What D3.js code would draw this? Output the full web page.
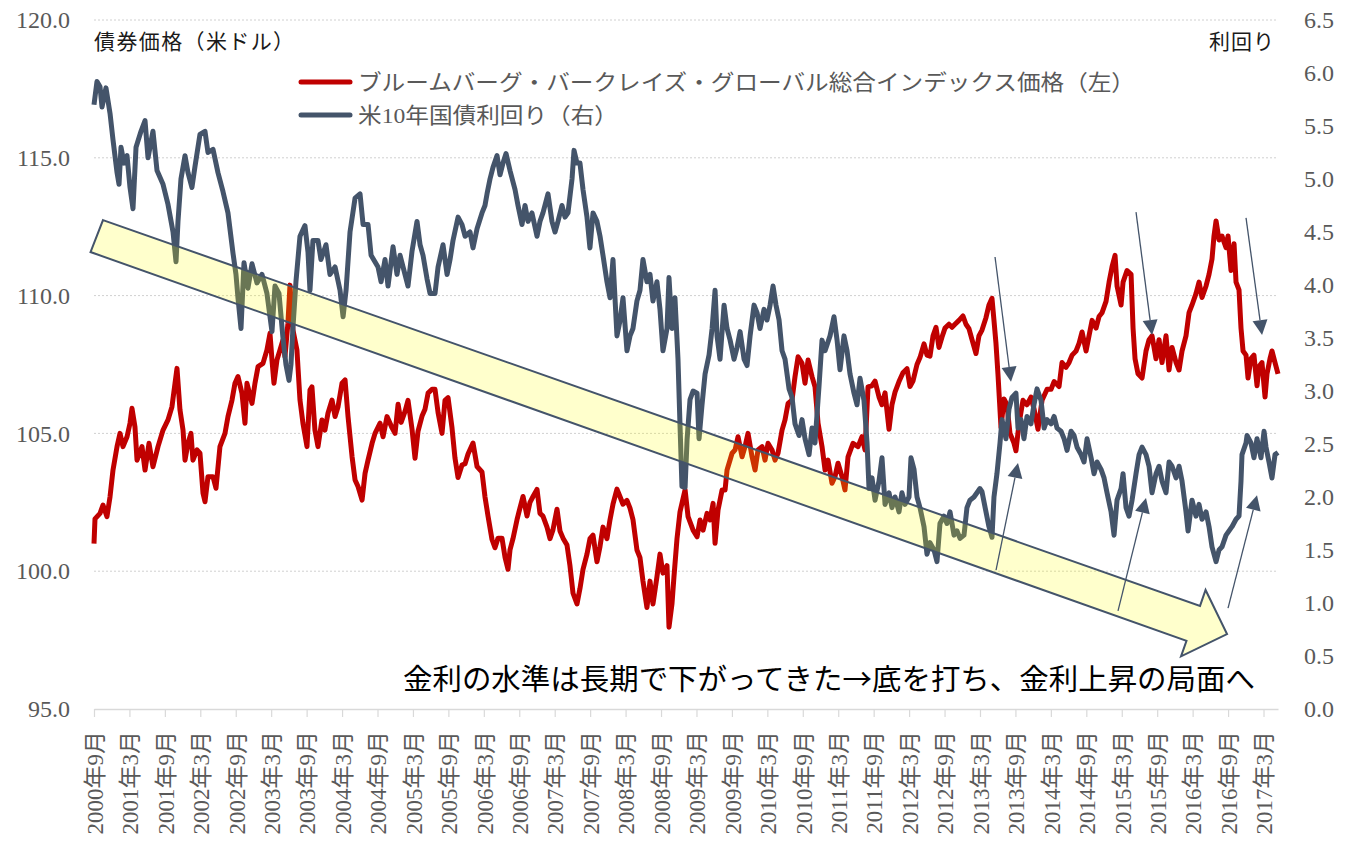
<!DOCTYPE html>
<html>
<head>
<meta charset="utf-8">
<script src="https://cdn.jsdelivr.net/npm/d3@7/dist/d3.min.js"></script>
<style>
body { margin: 0; background: #fff; }
text { font-family: "Liberation Serif", "Times New Roman", "DejaVu Serif", "Noto Sans CJK JP", serif; }
</style>
</head>
<body>
<svg id="chart" width="1345" height="841"></svg>
<script>
// svg box size
var width = 1345,
    height = 841,
    margins = {};

margins.top    = 20;
margins.bottom = 132;
margins.left   = 94;
margins.right  = 67;

var serifFont = '"Liberation Serif", "Times New Roman", "DejaVu Serif", "Noto Sans CJK JP", serif';

//////////////////
// Data
//////////////////

// series names (legend)
var seriesNames = ["ブルームバーグ・バークレイズ・グローバル総合インデックス価格（左）", "米10年国債利回り（右）"];
var seriesColors = ["#C00000", "#44546A"];

// x axis labels (every 6 months)
var xTickLabels = ["2000年9月","2001年3月","2001年9月","2002年3月","2002年9月","2003年3月","2003年9月","2004年3月",
    "2004年9月","2005年3月","2005年9月","2006年3月","2006年9月","2007年3月","2007年9月","2008年3月","2008年9月",
    "2009年3月","2009年9月","2010年3月","2010年9月","2011年3月","2011年9月","2012年3月","2012年9月","2013年3月",
    "2013年9月","2014年3月","2014年9月","2015年3月","2015年9月","2016年3月","2016年9月","2017年3月"];

var leftTicks  = [95, 100, 105, 110, 115, 120];
var rightTicks = [0, 0.5, 1, 1.5, 2, 2.5, 3, 3.5, 4, 4.5, 5, 5.5, 6, 6.5];

// bond index price, [decimal year, USD]
var priceSeries = [
[2000.667,101.0],[2000.681,101.9],[2000.752,102.10],[2000.794,102.40],[2000.850,101.98],[2000.893,102.70],[2000.935,103.67],[2000.992,104.52],
[2001.034,105.00],[2001.076,104.52],[2001.133,104.88],[2001.175,105.37],[2001.203,105.91],[2001.245,105.24],[2001.274,104.03],[2001.344,104.52],[2001.387,103.67],[2001.443,104.64],[2001.499,103.79],[2001.570,104.52],[2001.641,105.12],[2001.711,105.49],[2001.767,105.97],[2001.810,106.82],[2001.838,107.36],[2001.880,105.85],[2001.923,105.12],[2001.951,104.03],[2001.993,104.64],
[2002.035,105.00],[2002.063,104.03],[2002.120,104.40],[2002.162,104.28],[2002.205,102.83],[2002.233,102.52],[2002.275,103.43],[2002.346,103.43],[2002.388,103.01],[2002.444,104.52],[2002.515,105.00],[2002.557,105.61],[2002.614,106.21],[2002.656,106.82],[2002.698,107.06],[2002.755,106.45],[2002.797,105.37],[2002.825,106.82],[2002.896,106.09],[2002.938,106.82],[2002.981,107.42],
[2003.051,107.54],[2003.107,108.03],[2003.150,108.63],[2003.178,107.66],[2003.206,106.82],[2003.248,107.66],[2003.291,108.03],[2003.333,108.39],[2003.361,107.78],[2003.403,109.00],[2003.432,110.38],[2003.474,108.75],[2003.530,108.03],[2003.573,106.21],[2003.615,105.37],[2003.672,104.52],[2003.714,106.57],[2003.742,106.69],[2003.784,105.12],[2003.827,104.52],[2003.883,105.49],[2003.925,105.12],[2003.968,105.73],
[2004.025,106.21],[2004.068,105.61],[2004.110,105.97],[2004.166,106.82],[2004.209,106.94],[2004.251,105.61],[2004.308,104.15],[2004.350,103.31],[2004.392,103.07],[2004.449,102.58],[2004.491,103.55],[2004.533,104.03],[2004.590,104.64],[2004.632,105.00],[2004.703,105.37],[2004.745,104.88],[2004.801,105.61],[2004.872,105.20],[2004.914,105.00],[2004.957,106.06],
[2005.000,105.40],[2005.055,105.80],[2005.097,106.20],[2005.154,105.15],[2005.196,104.10],[2005.238,105.07],[2005.295,105.63],[2005.337,105.88],[2005.380,106.46],[2005.436,106.60],[2005.478,106.60],[2005.521,105.76],[2005.577,105.00],[2005.619,106.20],[2005.662,106.30],[2005.718,105.20],[2005.760,104.10],[2005.803,103.40],[2005.859,103.85],[2005.902,103.90],[2005.944,104.25],
[2006.014,104.65],[2006.071,103.80],[2006.141,103.60],[2006.183,102.70],[2006.226,102.00],[2006.282,101.15],[2006.324,100.85],[2006.367,101.20],[2006.423,101.20],[2006.466,100.50],[2006.508,100.07],[2006.536,100.77],[2006.578,101.18],[2006.635,101.87],[2006.677,102.30],[2006.720,102.71],[2006.776,102.00],[2006.818,102.50],[2006.861,102.71],[2006.917,102.97],[2006.959,102.10],
[2007.001,102.00],[2007.058,101.60],[2007.100,101.18],[2007.142,101.50],[2007.199,102.25],[2007.241,101.46],[2007.284,101.20],[2007.340,100.95],[2007.382,100.20],[2007.425,99.20],[2007.481,98.81],[2007.523,99.37],[2007.566,100.07],[2007.622,100.62],[2007.664,101.18],[2007.707,101.31],[2007.763,100.34],[2007.806,100.90],[2007.848,101.60],[2007.904,101.18],[2007.947,101.87],[2007.989,102.43],
[2008.045,102.98],[2008.087,102.71],[2008.130,102.43],[2008.186,102.57],[2008.229,102.29],[2008.271,101.87],[2008.327,100.77],[2008.370,100.49],[2008.412,99.64],[2008.468,98.68],[2008.511,99.64],[2008.553,98.81],[2008.609,99.79],[2008.652,100.62],[2008.694,99.93],[2008.751,100.20],[2008.779,97.97],[2008.821,98.81],[2008.849,99.79],[2008.892,101.18],[2008.934,102.15],[2008.962,102.46],
[2009.006,102.95],[2009.048,101.98],[2009.119,101.49],[2009.175,101.25],[2009.217,101.86],[2009.260,101.49],[2009.316,102.10],[2009.358,101.86],[2009.401,102.46],[2009.429,101.01],[2009.471,102.22],[2009.528,102.95],[2009.570,102.95],[2009.598,103.67],[2009.669,104.28],[2009.711,104.40],[2009.753,104.88],[2009.810,104.15],[2009.852,104.52],[2009.894,105.00],[2009.951,104.15],[2009.993,103.67],
[2010.035,104.40],[2010.092,104.52],[2010.134,104.03],[2010.176,104.64],[2010.233,104.40],[2010.275,104.03],[2010.317,104.28],[2010.374,105.12],[2010.416,105.49],[2010.459,106.09],[2010.515,106.21],[2010.557,107.06],[2010.600,107.78],[2010.656,107.54],[2010.698,106.82],[2010.741,107.66],[2010.797,107.06],[2010.839,106.69],[2010.882,105.37],[2010.938,104.52],[2010.981,103.67],
[2011.023,104.03],[2011.079,103.19],[2011.121,103.43],[2011.164,103.92],[2011.220,103.43],[2011.262,102.95],[2011.305,104.15],[2011.375,104.64],[2011.446,104.52],[2011.502,104.88],[2011.545,104.40],[2011.587,106.69],[2011.643,106.73],[2011.686,106.90],[2011.742,106.32],[2011.784,106.04],[2011.827,106.47],[2011.883,105.15],[2011.925,106.04],[2011.968,106.50],
[2012.024,106.88],[2012.080,107.20],[2012.137,107.35],[2012.179,106.70],[2012.221,106.90],[2012.278,107.50],[2012.320,107.75],[2012.377,108.25],[2012.419,107.84],[2012.461,107.80],[2012.504,108.54],[2012.546,108.85],[2012.588,108.12],[2012.631,108.50],[2012.673,108.82],[2012.729,108.96],[2012.772,108.85],[2012.814,108.96],[2012.870,109.10],[2012.927,109.26],[2012.969,108.96],
[2013.011,108.80],[2013.054,108.40],[2013.110,107.90],[2013.152,108.54],[2013.195,108.75],[2013.251,109.20],[2013.293,109.66],[2013.336,109.90],[2013.364,109.10],[2013.392,108.27],[2013.420,107.16],[2013.463,105.21],[2013.505,106.25],[2013.547,106.04],[2013.590,105.00],[2013.646,104.65],[2013.674,104.37],[2013.717,105.35],[2013.773,106.20],[2013.830,106.04],[2013.886,106.32],[2013.928,105.90],[2013.985,105.15],
[2014.042,106.20],[2014.113,106.60],[2014.169,106.60],[2014.212,106.88],[2014.282,106.70],[2014.324,107.57],[2014.381,107.40],[2014.423,107.57],[2014.466,107.84],[2014.522,107.99],[2014.564,108.27],[2014.607,108.68],[2014.663,107.99],[2014.705,108.54],[2014.748,109.10],[2014.804,108.82],[2014.846,109.24],[2014.889,109.38],[2014.945,109.79],[2014.988,110.49],
[2015.030,111.05],[2015.072,111.46],[2015.100,110.35],[2015.157,109.66],[2015.185,110.49],[2015.241,110.91],[2015.298,110.77],[2015.326,108.82],[2015.354,107.71],[2015.396,107.16],[2015.453,107.01],[2015.509,107.99],[2015.552,108.40],[2015.594,108.54],[2015.650,107.71],[2015.693,108.40],[2015.735,107.57],[2015.791,108.54],[2015.834,107.30],[2015.876,108.12],[2015.933,107.57],[2015.975,107.30],
[2016.017,107.99],[2016.073,108.54],[2016.116,109.38],[2016.158,109.66],[2016.214,110.07],[2016.257,110.49],[2016.299,109.93],[2016.356,110.35],[2016.398,110.77],[2016.440,111.33],[2016.468,112.16],[2016.497,112.71],[2016.539,112.02],[2016.581,112.16],[2016.638,111.74],[2016.666,112.16],[2016.708,110.91],[2016.751,111.88],[2016.779,110.49],[2016.821,110.21],[2016.849,108.82],[2016.878,107.99],[2016.920,107.84],[2016.948,107.01],[2016.990,107.71],
[2017.032,107.84],[2017.075,106.73],[2017.103,107.43],[2017.145,107.57],[2017.188,106.32],[2017.216,107.16],[2017.258,107.71],[2017.286,107.99],[2017.329,107.57],[2017.371,107.16]
];

// US 10y treasury yield, [decimal year, %]
var yieldSeries = [
[2000.667,5.70],[2000.709,5.92],[2000.752,5.87],[2000.780,5.68],[2000.836,5.86],[2000.893,5.62],[2000.935,5.37],[2000.992,5.06],
[2001.020,4.95],[2001.048,5.30],[2001.090,5.15],[2001.133,5.22],[2001.175,4.92],[2001.217,4.72],[2001.260,5.30],[2001.330,5.45],[2001.387,5.55],[2001.429,5.20],[2001.499,5.45],[2001.556,5.08],[2001.641,4.95],[2001.711,4.76],[2001.782,4.50],[2001.824,4.22],[2001.852,4.60],[2001.894,5.00],[2001.951,5.22],[2001.993,5.06],
[2002.049,4.92],[2002.092,5.12],[2002.162,5.42],[2002.233,5.45],[2002.275,5.25],[2002.346,5.28],[2002.416,5.06],[2002.487,4.88],[2002.557,4.68],[2002.628,4.30],[2002.670,4.10],[2002.698,3.88],[2002.741,3.59],[2002.783,4.21],[2002.839,3.97],[2002.896,4.20],[2002.966,4.02],
[2003.037,4.10],[2003.107,3.92],[2003.150,3.70],[2003.178,3.56],[2003.220,3.99],[2003.277,3.92],[2003.333,3.50],[2003.375,3.25],[2003.418,3.10],[2003.446,3.25],[2003.474,3.60],[2003.516,4.03],[2003.573,4.46],[2003.643,4.56],[2003.686,4.31],[2003.714,3.95],[2003.756,4.42],[2003.827,4.42],[2003.869,4.24],[2003.940,4.38],[2003.996,4.10],
[2004.068,4.17],[2004.138,3.95],[2004.181,3.70],[2004.223,3.95],[2004.279,4.50],[2004.350,4.82],[2004.420,4.86],[2004.463,4.57],[2004.533,4.57],[2004.576,4.28],[2004.674,4.17],[2004.717,4.03],[2004.773,4.24],[2004.815,3.99],[2004.886,4.36],[2004.942,4.10],[2004.985,4.28],
[2005.027,4.17],[2005.097,3.99],[2005.154,4.32],[2005.224,4.60],[2005.267,4.38],[2005.309,4.28],[2005.365,4.06],[2005.408,3.92],[2005.478,3.92],[2005.521,4.17],[2005.591,4.38],[2005.648,4.10],[2005.690,4.24],[2005.732,4.42],[2005.803,4.64],[2005.859,4.57],[2005.902,4.46],[2005.972,4.50],
[2006.014,4.35],[2006.071,4.53],[2006.141,4.68],[2006.183,4.75],[2006.212,4.86],[2006.254,5.00],[2006.296,5.11],[2006.353,5.22],[2006.395,5.04],[2006.437,5.15],[2006.480,5.24],[2006.536,5.08],[2006.607,4.90],[2006.649,4.75],[2006.705,4.57],[2006.748,4.75],[2006.790,4.60],[2006.846,4.68],[2006.917,4.46],[2006.959,4.60],
[2007.001,4.68],[2007.072,4.86],[2007.128,4.60],[2007.171,4.50],[2007.213,4.60],[2007.269,4.75],[2007.312,4.64],[2007.354,4.68],[2007.411,5.00],[2007.439,5.27],[2007.481,5.15],[2007.523,5.15],[2007.566,4.90],[2007.622,4.64],[2007.664,4.35],[2007.707,4.68],[2007.763,4.60],[2007.806,4.46],[2007.848,4.28],[2007.904,4.03],[2007.947,3.88],[2007.989,4.24],
[2008.045,3.52],[2008.087,3.66],[2008.130,3.88],[2008.186,3.38],[2008.229,3.52],[2008.271,3.59],[2008.327,3.85],[2008.370,3.95],[2008.412,4.24],[2008.468,4.03],[2008.511,4.10],[2008.553,3.85],[2008.609,4.03],[2008.652,3.77],[2008.694,3.38],[2008.751,3.59],[2008.779,4.07],[2008.821,3.59],[2008.863,3.88],[2008.906,3.30],[2008.934,2.69],[2008.962,2.10],
[2009.006,2.09],[2009.034,2.54],[2009.076,2.92],[2009.119,3.00],[2009.175,2.98],[2009.203,2.55],[2009.245,2.87],[2009.288,3.16],[2009.344,3.34],[2009.387,3.59],[2009.429,3.95],[2009.457,3.52],[2009.499,3.30],[2009.556,3.81],[2009.598,3.59],[2009.641,3.48],[2009.697,3.30],[2009.739,3.41],[2009.782,3.56],[2009.838,3.30],[2009.880,3.24],[2009.923,3.52],[2009.979,3.81],
[2010.021,3.74],[2010.063,3.59],[2010.120,3.77],[2010.162,3.67],[2010.205,3.81],[2010.247,3.99],[2010.289,3.81],[2010.332,3.67],[2010.374,3.38],[2010.416,3.30],[2010.473,3.02],[2010.515,2.94],[2010.557,2.69],[2010.614,2.58],[2010.656,2.73],[2010.698,2.55],[2010.755,2.40],[2010.797,2.65],[2010.839,2.51],[2010.896,3.05],[2010.938,3.48],[2010.981,3.38],
[2011.051,3.52],[2011.107,3.70],[2011.150,3.48],[2011.192,3.20],[2011.248,3.52],[2011.291,3.38],[2011.333,3.16],[2011.389,2.98],[2011.432,2.87],[2011.474,3.12],[2011.530,2.91],[2011.573,2.51],[2011.601,2.08],[2011.643,2.18],[2011.686,1.97],[2011.742,2.15],[2011.784,2.37],[2011.827,1.93],[2011.883,2.04],[2011.925,1.90],[2011.968,2.00],
[2012.024,1.86],[2012.066,2.04],[2012.109,1.93],[2012.165,2.00],[2012.193,2.37],[2012.236,2.26],[2012.278,2.00],[2012.320,1.90],[2012.377,1.72],[2012.419,1.46],[2012.461,1.57],[2012.518,1.50],[2012.560,1.39],[2012.602,1.75],[2012.659,1.82],[2012.701,1.75],[2012.744,1.86],[2012.800,1.64],[2012.842,1.68],[2012.885,1.61],[2012.941,1.64],[2012.983,1.90],
[2013.025,1.97],[2013.082,2.00],[2013.124,2.04],[2013.166,2.08],[2013.195,2.05],[2013.251,1.86],[2013.293,1.72],[2013.336,1.62],[2013.364,2.00],[2013.406,2.22],[2013.449,2.51],[2013.477,2.73],[2013.533,2.55],[2013.576,2.83],[2013.618,2.94],[2013.674,2.98],[2013.703,2.65],[2013.745,2.73],[2013.787,2.55],[2013.830,2.76],[2013.886,2.69],[2013.928,2.87],[2013.971,3.02],
[2014.028,2.91],[2014.071,2.65],[2014.113,2.73],[2014.169,2.69],[2014.212,2.76],[2014.254,2.65],[2014.310,2.62],[2014.353,2.55],[2014.395,2.44],[2014.451,2.62],[2014.494,2.58],[2014.536,2.47],[2014.593,2.40],[2014.635,2.33],[2014.677,2.55],[2014.734,2.37],[2014.776,2.22],[2014.818,2.33],[2014.875,2.26],[2014.917,2.18],[2014.959,2.04],
[2015.016,1.86],[2015.058,1.64],[2015.100,1.97],[2015.157,2.08],[2015.185,2.22],[2015.227,1.90],[2015.269,1.82],[2015.312,1.97],[2015.368,2.22],[2015.411,2.40],[2015.453,2.47],[2015.509,2.40],[2015.552,2.29],[2015.594,2.04],[2015.650,2.22],[2015.693,2.29],[2015.735,2.15],[2015.791,2.04],[2015.834,2.33],[2015.876,2.29],[2015.933,2.18],[2015.975,2.29],
[2016.017,2.15],[2016.073,1.86],[2016.102,1.68],[2016.158,1.97],[2016.214,1.82],[2016.257,1.93],[2016.299,1.79],[2016.356,1.86],[2016.398,1.72],[2016.440,1.53],[2016.497,1.39],[2016.539,1.50],[2016.581,1.53],[2016.638,1.64],[2016.680,1.68],[2016.722,1.72],[2016.779,1.79],[2016.821,1.82],[2016.849,2.15],[2016.863,2.40],[2016.920,2.51],[2016.934,2.58],[2016.990,2.51],
[2017.032,2.37],[2017.075,2.55],[2017.131,2.37],[2017.174,2.62],[2017.202,2.47],[2017.244,2.33],[2017.286,2.18],[2017.329,2.40],[2017.371,2.42]
];

// annotations, in [decimal year, price] space
var bigArrowPts = [[2000.794,112.74],[2016.271,98.74],[2016.349,99.32],[2016.652,97.72],
                   [2016.003,96.91],[2016.080,97.47],[2000.618,111.58]];
var pointerArrows = [
    [[2013.379,111.40],[2013.604,106.87]],
    [[2015.368,113.03],[2015.594,108.57]],
    [[2016.920,112.82],[2017.146,108.57]],
    [[2013.393,100.04],[2013.703,103.93]],
    [[2015.114,98.56],[2015.509,102.66]],
    [[2016.666,98.66],[2017.075,102.76]]
];
var noteText = "金利の水準は長期で下がってきた→底を打ち、金利上昇の局面へ";
var notePos = [2005.026, 95.7];

//////////////////
// Scales
//////////////////

var plotRight  = width - margins.right,
    plotBottom = height - margins.bottom;

var x = d3.scaleLinear()
    .domain([2000.667, 2017.371])
    .range([margins.left, plotRight]);

var yLeft = d3.scaleLinear()
    .domain([95, 120])
    .range([plotBottom, margins.top]);

var yRight = d3.scaleLinear()
    .domain([0, 6.5])
    .range([plotBottom, margins.top]);

// label "2000年9月" -> decimal year
function labelToYear(s) {
    var yr = +s.slice(0, 4),
        mo = +s.slice(5, s.length - 1);
    return yr + (mo - 1) / 12;
}
var xTickValues = xTickLabels.map(labelToYear);

var svg = d3.select("#chart");

//////////////////
// Grid + axes
//////////////////

svg.append("g")
    .selectAll("line")
    .data(leftTicks.filter(function(d) { return d > 95; }))
    .enter()
    .append("line")
    .attr("x1", margins.left)
    .attr("x2", plotRight)
    .attr("y1", function(d) { return yLeft(d); })
    .attr("y2", function(d) { return yLeft(d); })
    .style("stroke", "#d0d0d0")
    .style("stroke-width", 1)
    .style("stroke-dasharray", "2,2");

var gLeft = svg.append("g")
    .attr("transform", "translate(" + margins.left + ",0)")
    .call(d3.axisLeft(yLeft).tickValues(leftTicks).tickFormat(d3.format(".1f")).tickSize(0).tickPadding(24));
gLeft.select(".domain").remove();
gLeft.selectAll("text")
    .style("font-size", "24px")
    .style("fill", "#595959")
    .style("font-family", serifFont);

var gRight = svg.append("g")
    .attr("transform", "translate(" + plotRight + ",0)")
    .call(d3.axisRight(yRight).tickValues(rightTicks).tickFormat(d3.format(".1f")).tickSize(0).tickPadding(26));
gRight.select(".domain").remove();
gRight.selectAll("text")
    .style("font-size", "24px")
    .style("fill", "#595959")
    .style("font-family", serifFont);

var gX = svg.append("g")
    .attr("transform", "translate(0," + plotBottom + ")")
    .call(d3.axisBottom(x).tickValues(xTickValues)
        .tickFormat(function(d, i) { return xTickLabels[i]; })
        .tickSize(8).tickSizeOuter(0));
gX.select(".domain").style("stroke", "#d9d9d9").style("stroke-width", 1.5);
gX.selectAll(".tick line").style("stroke", "#d9d9d9").style("stroke-width", 1.2);
gX.selectAll("text")
    .attr("transform", "rotate(-90)")
    .attr("text-anchor", "end")
    .attr("x", -22)
    .attr("y", 0)
    .attr("dy", "0.36em")
    .style("font-size", "23px")
    .style("fill", "#595959")
    .style("font-family", serifFont);

//////////////////
// Lines
//////////////////

var priceLine = d3.line()
    .x(function(d) { return x(d[0]); })
    .y(function(d) { return yLeft(d[1]); });

var yieldLine = d3.line()
    .x(function(d) { return x(d[0]); })
    .y(function(d) { return yRight(d[1]); });

svg.append("path")
    .datum(priceSeries)
    .attr("d", priceLine)
    .style("fill", "none")
    .style("stroke", seriesColors[0])
    .style("stroke-width", 5)
    .style("stroke-linejoin", "round");

svg.append("path")
    .datum(yieldSeries)
    .attr("d", yieldLine)
    .style("fill", "none")
    .style("stroke", seriesColors[1])
    .style("stroke-width", 5)
    .style("stroke-linejoin", "round");

//////////////////
// Annotations
//////////////////

// big translucent arrow
svg.append("polygon")
    .attr("points", bigArrowPts.map(function(p) { return x(p[0]) + "," + yLeft(p[1]); }).join(" "))
    .style("fill", "#FFFF00")
    .style("fill-opacity", 0.2)
    .style("stroke", "#44546A")
    .style("stroke-width", 2)
    .style("stroke-linejoin", "miter");

// thin pointer arrows
var gPtr = svg.append("g");
pointerArrows.forEach(function(a) {
    var x1 = x(a[0][0]), y1 = yLeft(a[0][1]),
        x2 = x(a[1][0]), y2 = yLeft(a[1][1]);
    var len = Math.sqrt((x2 - x1) * (x2 - x1) + (y2 - y1) * (y2 - y1));
    var ux = (x2 - x1) / len, uy = (y2 - y1) / len;
    var hl = 15, hw = 7.5;
    var bx = x2 - ux * hl, by = y2 - uy * hl;
    gPtr.append("line")
        .attr("x1", x1).attr("y1", y1)
        .attr("x2", bx).attr("y2", by)
        .style("stroke", "#44546A")
        .style("stroke-width", 1.3);
    gPtr.append("polygon")
        .attr("points", [
            [x2, y2],
            [bx - uy * hw, by + ux * hw],
            [bx + uy * hw, by - ux * hw]
        ].map(function(p) { return p.join(","); }).join(" "))
        .style("fill", "#44546A");
});

svg.append("text")
    .attr("x", x(notePos[0]))
    .attr("y", yLeft(notePos[1]))
    .attr("textLength", 852)
    .attr("lengthAdjust", "spacingAndGlyphs")
    .style("font-size", "29px")
    .style("font-family", "Noto Sans CJK JP")
    .style("fill", "#000")
    .text(noteText);

//////////////////
// Titles + legend
//////////////////

svg.append("text")
    .attr("x", margins.left)
    .attr("y", 49)
    .attr("textLength", 200)
    .style("font-size", "21px")
    .style("fill", "#1a1a1a")
    .text("債券価格（米ドル）");

svg.append("text")
    .attr("x", 1275)
    .attr("y", 49)
    .attr("text-anchor", "end")
    .style("font-size", "21px")
    .style("letter-spacing", "1px")
    .style("fill", "#1a1a1a")
    .text("利回り");

var legendRows = [82, 115],
    legendLens = [777, 260];

var legend = svg.append("g")
    .selectAll("g")
    .data(seriesNames)
    .enter()
    .append("g")
    .attr("transform", function(d, i) { return "translate(0," + legendRows[i] + ")"; });

legend.append("line")
    .attr("x1", 301)
    .attr("x2", 350)
    .style("stroke", function(d, i) { return seriesColors[i]; })
    .style("stroke-width", 5)
    .style("stroke-linecap", "round");

legend.append("text")
    .attr("x", 358)
    .attr("y", 8)
    .attr("textLength", function(d, i) { return legendLens[i]; })
    .attr("lengthAdjust", "spacingAndGlyphs")
    .style("font-size", "22px")
    .style("fill", "#595959")
    .text(function(d) { return d; });
</script>
</body>
</html>
